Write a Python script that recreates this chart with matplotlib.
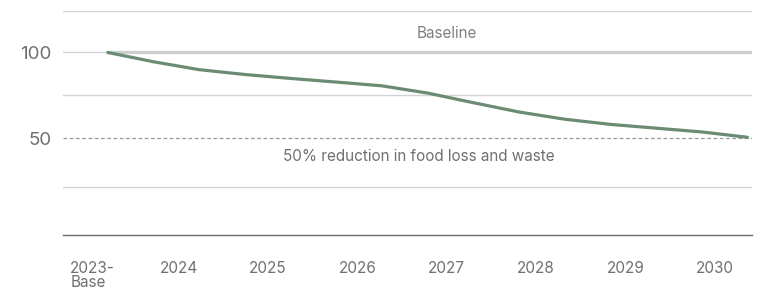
import numpy as np
import matplotlib
matplotlib.use("Agg")
import matplotlib.pyplot as plt

plt.rcParams['font.family'] = ['Inter', 'DejaVu Sans']

# years on the x axis (half-year readings to keep the curve shape)
years = ["2023-\nBase", "2024", "2025", "2026", "2027", "2028", "2029", "2030"]
steps = [0, 0.5, 1, 1.5, 2, 2.5, 3, 3.5, 4, 4.5, 5, 5.5, 6, 6.5, 7]
trend = [100, 94.6, 90.0, 87.2, 84.9, 82.8, 80.6, 76.4, 70.8, 65.4, 61.2, 58.2, 56.0, 53.8, 50.7]
baseline = 100
target = 50
grid_levels = [124, 100, 75, 22]

fig = plt.figure(figsize=(7.6, 2.91), dpi=100)
ax = fig.add_axes([63 / 760, (291 - 235) / 291, (752 - 63) / 760, (235 - 11) / 291])

for g in grid_levels:
    ax.axhline(g, color="#d4d4d4", lw=1.0, zorder=1)
ax.axhline(target, color="#9a9a9a", lw=0.9, ls=(0, (3, 2)), zorder=1)

ax.plot([0, 7.05], [baseline, baseline], color="#cdcfcc", lw=2.4, zorder=2, solid_capstyle="butt")
ax.plot(steps, trend, color="#6b8c72", lw=2.3, zorder=3, solid_capstyle="round")

ax.text(3.71, 111.3, "Baseline", ha="center", va="center", fontsize=11, color="#808080")
ax.text(3.4, 39.8, "50% reduction in food loss and waste", ha="center", va="center",
        fontsize=11, color="#707070")

ax.set_xlim(-0.49, 7.05)
ax.set_ylim(-6.1, 124.1)

ax.set_yticks([50, 100])
ax.set_yticklabels(["50", "100"], fontsize=13.5, color="#707070")
ax.tick_params(axis="y", length=0, pad=8)

ax.set_xticks([k * 0.978 - 0.41 for k in range(len(years))])
ax.set_xticklabels(years, fontsize=11, color="#707070", ha="left", linespacing=0.85)
ax.tick_params(axis="x", length=0, pad=19)

for s in ["top", "right", "left"]:
    ax.spines[s].set_visible(False)
ax.spines["bottom"].set_color("#6a6a6a")
ax.spines["bottom"].set_linewidth(1.0)

fig.savefig("out.png", dpi=100)
